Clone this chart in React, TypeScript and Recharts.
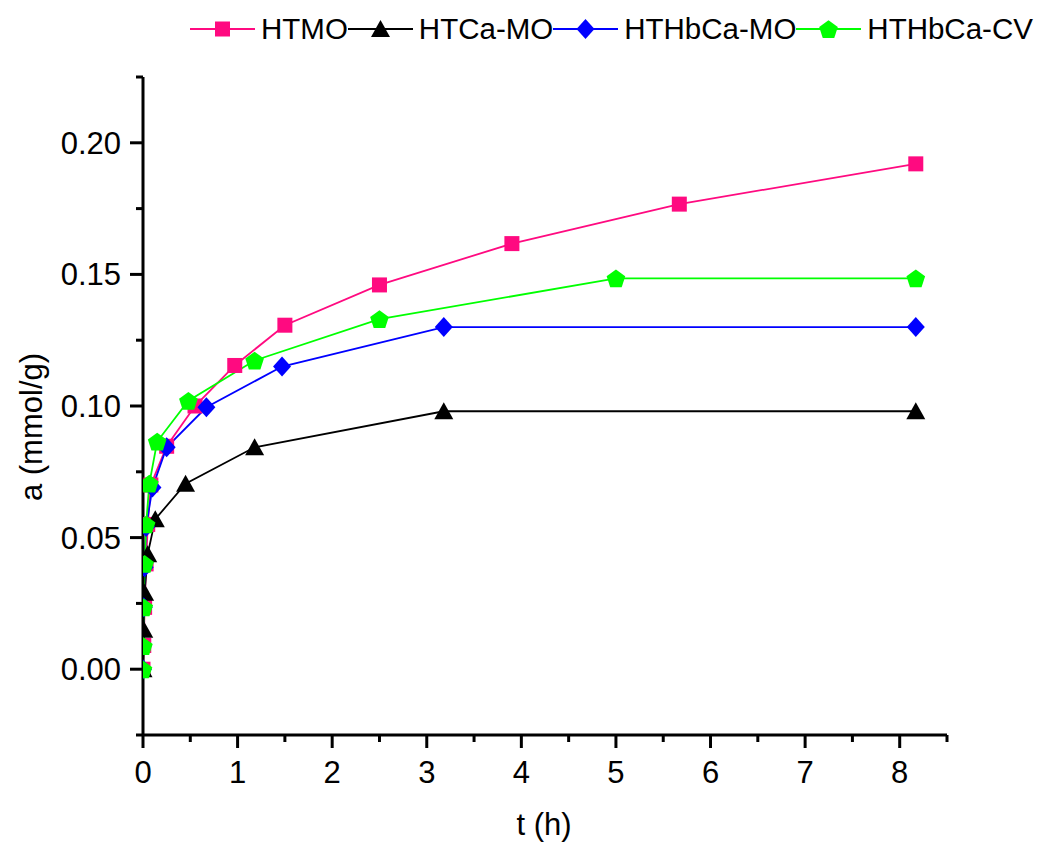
import React from 'react';
import { LineChart, Line, XAxis, YAxis, Legend, Label } from 'recharts';

// adsorption kinetics: time (h) vs uptake a (mmol/g)
const htmoT = [0, 0.008, 0.017, 0.033, 0.05, 0.083, 0.25, 0.55, 0.97, 1.5, 2.5, 3.9, 5.67, 8.17];
const htmoA = [0, 0.009, 0.0235, 0.04, 0.055, 0.07, 0.0847, 0.1, 0.1154, 0.1307, 0.146, 0.1617, 0.1767, 0.192];

const htcaT = [0, 0.008, 0.017, 0.05, 0.13, 0.45, 1.18, 3.18, 8.17];
const htcaA = [0, 0.015, 0.029, 0.0437, 0.057, 0.0705, 0.0843, 0.098, 0.098];

const hthbMoT = [0, 0.008, 0.017, 0.033, 0.1, 0.25, 0.67, 1.47, 3.18, 8.17];
const hthbMoA = [0, 0.0235, 0.0387, 0.054, 0.069, 0.0843, 0.0995, 0.115, 0.13, 0.13];

const hthbCvT = [0, 0.004, 0.008, 0.017, 0.033, 0.067, 0.15, 0.48, 1.18, 2.5, 5.0, 8.17];
const hthbCvA = [0, 0.0088, 0.0235, 0.04, 0.055, 0.0705, 0.0865, 0.102, 0.1173, 0.133, 0.1485, 0.1485];

const xTicks = [0, 0.5, 1, 1.5, 2, 2.5, 3, 3.5, 4, 4.5, 5, 5.5, 6, 6.5, 7, 7.5, 8, 8.5];
const yTicks = [-0.025, 0, 0.025, 0.05, 0.075, 0.1, 0.125, 0.15, 0.175, 0.2, 0.225];

const FONT = '"Liberation Sans", Arial, sans-serif';

const zip = (t: number[], a: number[]) => t.map((v, i) => ({ t: v, a: a[i] }));

type ShapeKind = 'square' | 'triangle' | 'diamond' | 'pentagon';

function Marker({ kind, cx, cy, color }: { kind: ShapeKind; cx: number; cy: number; color: string }) {
  if (kind === 'square') {
    return <rect x={cx - 7.5} y={cy - 7.5} width={15} height={15} fill={color} />;
  }
  if (kind === 'triangle') {
    return <polygon points={`${cx},${cy - 9} ${cx + 9.5},${cy + 8} ${cx - 9.5},${cy + 8}`} fill={color} />;
  }
  if (kind === 'diamond') {
    return <polygon points={`${cx},${cy - 10} ${cx + 9},${cy} ${cx},${cy + 10} ${cx - 9},${cy}`} fill={color} />;
  }
  const r = 9.8;
  const pts = [0, 1, 2, 3, 4]
    .map((i) => {
      const ang = (-90 + i * 72) * (Math.PI / 180);
      return `${cx + r * Math.cos(ang)},${cy + 1 + r * Math.sin(ang)}`;
    })
    .join(' ');
  return <polygon points={pts} fill={color} />;
}

const series = [
  { name: 'HTMO', color: '#FF0A80', kind: 'square' as ShapeKind, data: zip(htmoT, htmoA) },
  { name: 'HTCa-MO', color: '#000000', kind: 'triangle' as ShapeKind, data: zip(htcaT, htcaA) },
  { name: 'HTHbCa-MO', color: '#0000FF', kind: 'diamond' as ShapeKind, data: zip(hthbMoT, hthbMoA) },
  { name: 'HTHbCa-CV', color: '#00FF00', kind: 'pentagon' as ShapeKind, data: zip(hthbCvT, hthbCvA) },
];

function XTick(props: any) {
  const { x, y, payload } = props;
  const v = payload.value as number;
  const major = Number.isInteger(v);
  return (
    <g>
      <line x1={x} x2={x} y1={y} y2={y + (major ? 13 : 7)} stroke="#000" strokeWidth={3} />
      {major && (
        <text x={x} y={y + 48} textAnchor="middle" fontSize={31} fontFamily={FONT} fill="#000">
          {v}
        </text>
      )}
    </g>
  );
}

function YTick(props: any) {
  const { x, y, payload } = props;
  const v = payload.value as number;
  const major = Math.round(v * 1000) % 50 === 0;
  return (
    <g>
      <line x1={x} x2={x - (major ? 13 : 7)} y1={y} y2={y} stroke="#000" strokeWidth={3} />
      {major && (
        <text x={x - 22} y={y + 11} textAnchor="end" fontSize={31} fontFamily={FONT} fill="#000">
          {v.toFixed(2)}
        </text>
      )}
    </g>
  );
}

function LegendBox() {
  return (
    <div style={{ display: 'flex', alignItems: 'center', fontFamily: FONT, fontSize: 29.5, lineHeight: '30px' }}>
      {series.map((s) => (
        <div key={s.name} style={{ display: 'flex', alignItems: 'center' }}>
          <svg width={65} height={30} style={{ display: 'block' }}>
            <line x1={0} x2={65} y1={15} y2={15} stroke={s.color} strokeWidth={2} />
            <Marker kind={s.kind} cx={32.5} cy={15} color={s.color} />
          </svg>
          <span style={{ marginLeft: 6, color: '#000' }}>{s.name}</span>
        </div>
      ))}
    </div>
  );
}

export default function App() {
  return (
    <div style={{ position: 'absolute', left: 0, top: 0, background: '#fff' }}>
      <LineChart width={1039} height={844} data={series[0].data} margin={{ top: 77, right: 92, bottom: 5, left: 43 }}>
        <XAxis
          dataKey="t"
          type="number"
          domain={[0, 8.5]}
          ticks={xTicks}
          interval={0}
          allowDataOverflow
          tickSize={0}
          tickMargin={0}
          tick={<XTick />}
          axisLine={{ stroke: '#000', strokeWidth: 3 }}
          height={104}
        >
          <Label
            content={() => (
              <text x={544} y={835} textAnchor="middle" fontSize={31} fontFamily={FONT} fill="#000">
                t (h)
              </text>
            )}
          />
        </XAxis>
        <YAxis
          type="number"
          domain={[-0.025, 0.225]}
          ticks={yTicks}
          interval={0}
          allowDataOverflow
          tickSize={0}
          tickMargin={0}
          tick={<YTick />}
          axisLine={{ stroke: '#000', strokeWidth: 3 }}
          width={100}
        >
          <Label
            content={() => (
              <text
                x={42}
                y={427}
                transform="rotate(-90, 42, 427)"
                textAnchor="middle"
                fontSize={31}
                fontFamily={FONT}
                fill="#000"
              >
                a (mmol/g)
              </text>
            )}
          />
        </YAxis>
        <Legend
          layout="horizontal"
          verticalAlign="middle"
          align="center"
          content={() => <LegendBox />}
          wrapperStyle={{ position: 'absolute', top: 14, left: 190, width: 849 }}
        />
        {series.map((s) => (
          <Line
            key={s.name}
            data={s.data}
            dataKey="a"
            name={s.name}
            type="linear"
            stroke={s.color}
            strokeWidth={1.8}
            isAnimationActive={false}
            dot={(p: any) => <Marker key={`${s.name}-${p.index}`} kind={s.kind} cx={p.cx} cy={p.cy} color={s.color} />}
            activeDot={false}
          />
        ))}
      </LineChart>
    </div>
  );
}
